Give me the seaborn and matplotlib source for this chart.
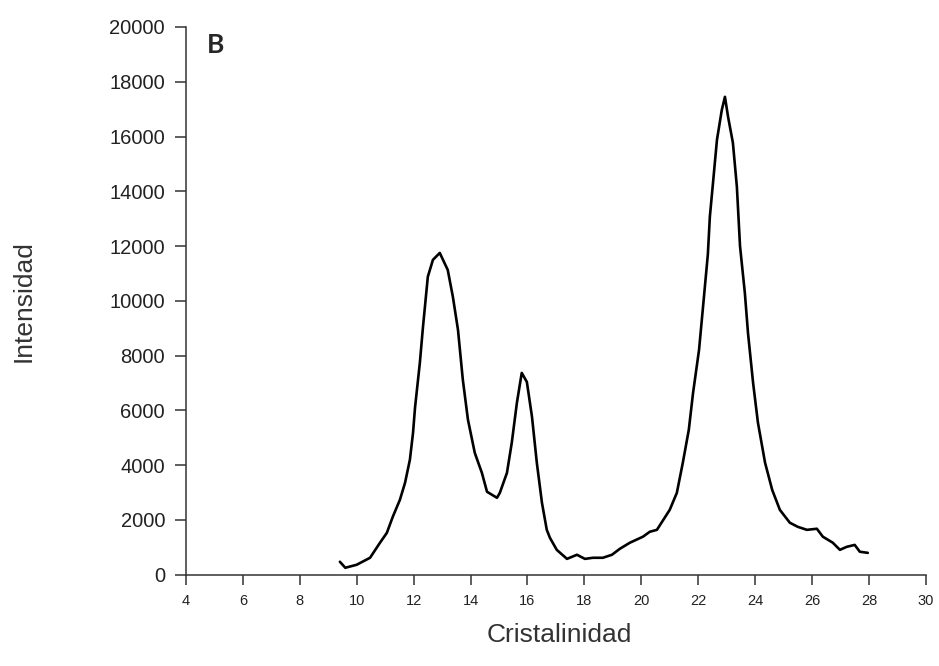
import matplotlib
matplotlib.use("Agg")
import matplotlib.pyplot as plt
import seaborn as sns

# Diffractogram
two_theta = [9.41, 9.6, 10.0, 10.47, 10.82, 11.06, 11.27, 11.52, 11.7, 11.87,
             11.98, 12.05, 12.22, 12.33, 12.5, 12.68, 12.92, 13.2, 13.38, 13.56,
             13.73, 13.91, 14.15, 14.4, 14.58, 14.93, 15.03, 15.28, 15.45, 15.63,
             15.8, 15.98, 16.16, 16.33, 16.51, 16.68, 16.79, 17.03, 17.39, 17.74,
             18.02, 18.3, 18.65, 18.97, 19.25, 19.6, 20.06, 20.3, 20.55, 21.0,
             21.25, 21.46, 21.67, 21.82, 22.03, 22.17, 22.34, 22.41, 22.52, 22.66,
             22.83, 22.94, 23.05, 23.22, 23.36, 23.47, 23.64, 23.75, 23.93, 24.1,
             24.35, 24.6, 24.87, 25.22, 25.5, 25.82, 26.17, 26.38, 26.73, 26.98,
             27.22, 27.5, 27.68, 27.96]
intensity = [475, 255, 365, 620, 1170, 1530, 2120, 2740, 3360, 4200,
             5180, 6100, 7740, 9050, 10880, 11500, 11750, 11130, 10150, 8940,
             7120, 5660, 4450, 3720, 3030, 2810, 2990, 3720, 4820, 6280,
             7370, 7040, 5770, 4090, 2630, 1640, 1350, 910, 580, 730,
             580, 620, 620, 730, 950, 1170, 1390, 1570, 1640, 2370,
             2990, 4090, 5290, 6640, 8210, 9780, 11700, 13070, 14300, 15880,
             16970, 17450, 16720, 15770, 14160, 12000, 10290, 8830, 7000, 5550,
             4090, 3100, 2370, 1900, 1750, 1640, 1680, 1390, 1170, 910,
             1020, 1090, 840, 800]

x_ticks = list(range(4, 31, 2))
y_ticks = list(range(0, 20001, 2000))

sns.set_style("ticks")
plt.rcParams['font.family'] = ['Liberation Sans', 'DejaVu Sans']

fig = plt.figure(figsize=(9.39, 6.66), dpi=100)
ax = fig.add_axes([0.198, 0.137, 0.788, 0.8225])

sns.lineplot(x=two_theta, y=intensity, color="black", linewidth=1.9, ax=ax)

ax.set_xlim(4, 30)
ax.set_ylim(0, 20000)
ax.set_xticks(x_ticks)
ax.set_yticks(y_ticks)
ax.tick_params(axis="x", labelsize=10.5, length=7.5, width=1.1, pad=6,
               colors="#333333", labelcolor="#222222")
ax.tick_params(axis="y", labelsize=14.5, length=8, width=1.1, pad=7,
               colors="#333333", labelcolor="#222222")
sns.despine(ax=ax)
for side in ["left", "bottom"]:
    ax.spines[side].set_color("#333333")
    ax.spines[side].set_linewidth(1.1)

ax.set_xlabel("Cristalinidad", fontsize=19, color="#333333")
ax.set_ylabel("Intensidad", fontsize=19, color="#333333")
ax.xaxis.set_label_coords(0.505, -0.088)
ax.yaxis.set_label_coords(-0.203, 0.5)

ax.text(0.028, 0.9526, "B", transform=ax.transAxes, fontsize=19,
        fontweight="bold", family=["Lato", "DejaVu Sans"], va="baseline")

fig.savefig("out.png", dpi=100)
